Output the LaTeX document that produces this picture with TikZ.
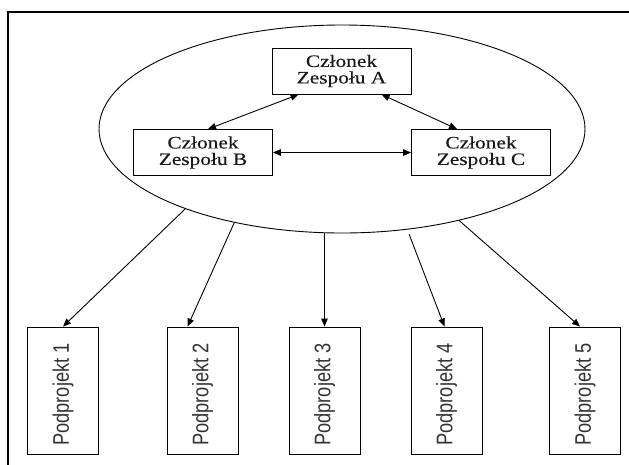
\documentclass[tikz,border=0pt]{standalone}
\usepackage{fontspec}
\setmainfont{Liberation Serif}
\newfontfamily\memberfont[FakeStretch=1.22,FakeBold=0.2]{Liberation Serif}
\newfontfamily\subfont[FakeStretch=0.81]{Liberation Sans}
\newcommand\sublabel[1]{\rotatebox{90}{#1\hspace*{8pt}}}
\usetikzlibrary{arrows.meta,calc,shapes.geometric}

\begin{document}
\begin{tikzpicture}[x=1pt,y=-1pt,
  member/.style={draw, line width=0.9pt, minimum width=139pt, minimum height=46pt,
    inner sep=0pt, align=center, text=black!90,
    font=\memberfont\fontsize{17.5}{16.5}\selectfont},
  subproj/.style={draw, line width=0.9pt, minimum width=71pt, minimum height=127pt,
    inner sep=0pt, text=black!80, font=\subfont\fontsize{22.5}{24}\selectfont},
  link/.style={line width=0.9pt, -{Triangle[length=8pt,width=6.5pt]}},
  both/.style={line width=0.9pt, {Triangle[length=8pt,width=6.5pt]}-{Triangle[length=8pt,width=6.5pt]}}]

\useasboundingbox (0,0) rectangle (629,464);
\clip (0,0) rectangle (629,464);
\fill[white] (0,0) rectangle (629,464);

% outer frame, running off the page on the right and bottom
\draw[line width=1.3pt] (8,480) -- (8,12) -- (645,12);

% team ellipse
\node[draw, ellipse, line width=0.9pt, minimum width=486pt, minimum height=208pt,
  inner sep=0pt] (team) at (342,129) {};

% team members
\node[member] (A) at (341.5,71) {Członek\\Zespołu A};
\node[member] (B) at (203,152.5) {Członek\\Zespołu B};
\node[member] (C) at (481,152.5) {Członek\\Zespołu C};

\draw[both] ($(A.south west)+(27,0)$) -- ($(B.north west)+(75,0)$);
\draw[both] ($(A.south west)+(110,0)$) -- ($(C.north west)+(46,0)$);
\draw[both] (B.east) -- (C.west);

% subprojects
\node[subproj] (p1) at (63,390.5) {\sublabel{Podprojekt 1}};
\node[subproj] (p2) at (202.5,390.5) {\sublabel{Podprojekt 2}};
\node[subproj] (p3) at (324.5,390.5) {\sublabel{Podprojekt 3}};
\node[subproj] (p4) at (446.5,390.5) {\sublabel{Podprojekt 4}};
\node[subproj] (p5) at (585,390.5) {\sublabel{Podprojekt 5}};

\draw[link] (team.207.6) -- (p1.north);
\draw[link] (team.221.8) -- ($(p2.north)+(-15,0)$);
\draw[link] (team.south -| p3.north) -- (p3.north);
\draw[link, shorten <=5pt] (team.303.3) -- ($(p4.north)+(-2,0)$);
\draw[link] (team.322.2) -- ($(p5.north)+(-5,0)$);
\end{tikzpicture}
\end{document}
